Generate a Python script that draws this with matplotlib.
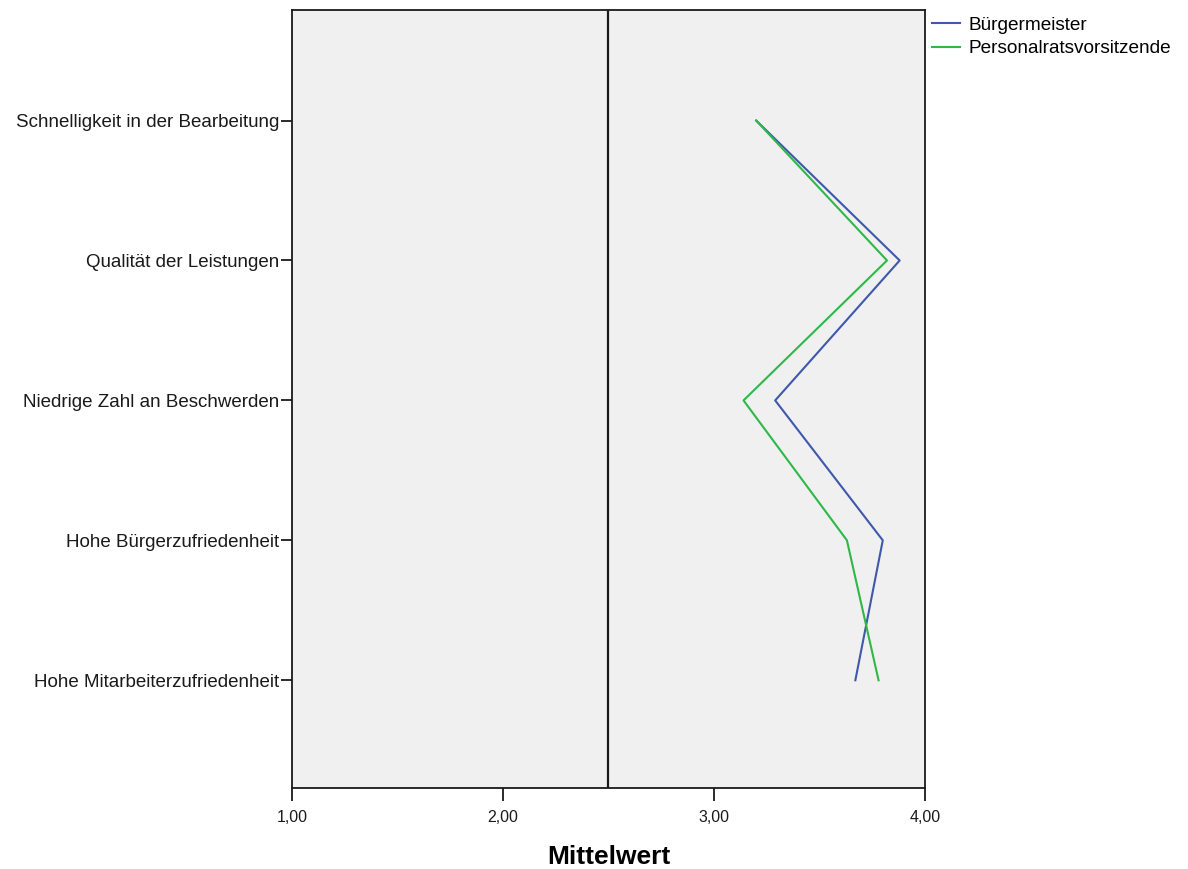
import matplotlib.pyplot as plt
from matplotlib.ticker import FuncFormatter

# Datos: Mittelwerte je Kategorie
kategorien = ['Schnelligkeit in der Bearbeitung', 'Qualität der Leistungen',
              'Niedrige Zahl an Beschwerden', 'Hohe Bürgerzufriedenheit',
              'Hohe Mitarbeiterzufriedenheit']
buergermeister = [3.20, 3.88, 3.29, 3.80, 3.67]
personalrat = [3.20, 3.82, 3.14, 3.63, 3.78]
referenz = 2.5

plt.rcParams['font.family'] = ['Liberation Sans', 'DejaVu Sans']

fig = plt.figure(figsize=(11.88, 8.69), dpi=100)
ax = fig.add_axes([0.2458, 0.0932, 0.5328, 0.8953])
ax.set_facecolor('#F0F0F0')

pos = list(range(len(kategorien)))
ax.plot(buergermeister, pos, color='#3E58AC', lw=1.5, label='Bürgermeister')
ax.plot(personalrat, pos, color='#2EB848', lw=1.5, label='Personalratsvorsitzende')
ax.axvline(referenz, color='#1a1a1a', lw=1.6)

ax.set_xlim(1, 4)
ax.set_ylim(4.77, -0.79)
ax.set_xticks([1, 2, 3, 4])
ax.xaxis.set_major_formatter(FuncFormatter(lambda v, p: f'{v:.2f}'.replace('.', ',')))
ax.set_yticks(pos)
ax.set_yticklabels(kategorien, fontsize=13.5)
ax.tick_params(axis='both', colors='#1a1a1a', width=1.3)
ax.tick_params(axis='x', length=9, pad=7, labelsize=11.5)
ax.tick_params(axis='y', length=8, pad=1)
for s in ax.spines.values():
    s.set_color('#1a1a1a')
    s.set_linewidth(1.3)

ax.set_xlabel('Mittelwert', fontsize=19, fontweight='bold', labelpad=14)

ax.legend(loc='upper left', bbox_to_anchor=(0.999, 1.001), frameon=False,
          prop={'size': 13.7}, handlelength=1.5, handletextpad=0.4,
          borderaxespad=0.2, labelspacing=0.3, borderpad=0.2)

fig.savefig('out.png', dpi=100)
